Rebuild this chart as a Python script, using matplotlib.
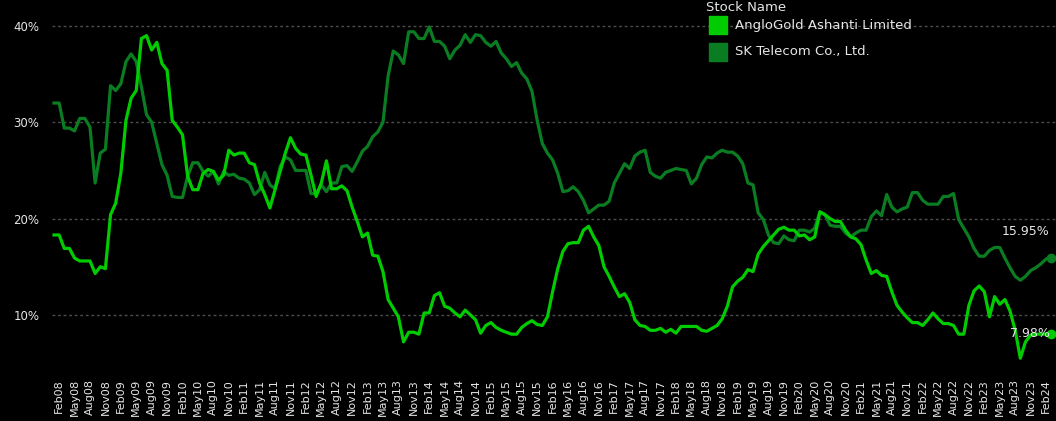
import matplotlib
matplotlib.use("Agg")
import matplotlib.pyplot as plt
from matplotlib.patches import Rectangle
import pandas as pd

# monthly observations, Jan 2008 .. Mar 2024
months = pd.date_range("2008-01-01", periods=195, freq="MS")

anglogold = [
    18.3, 18.3, 16.9, 16.9, 15.9, 15.6, 15.6, 15.6, 14.3, 15.0,
    14.8, 20.4, 21.6, 24.7, 30.2, 32.5, 33.3, 38.7, 39.0, 37.5,
    38.3, 36.1, 35.4, 30.2, 29.5, 28.7, 24.4, 23.0, 23.0, 24.7,
    25.1, 24.9, 24.0, 24.5, 27.1, 26.6, 26.8, 26.8, 25.8, 25.6,
    23.7, 22.5, 21.1, 23.0, 24.9, 26.8, 28.4, 27.3, 26.7, 26.6,
    24.5, 22.3, 23.7, 26.0, 23.1, 23.1, 23.4, 22.9, 21.2, 19.7,
    18.1, 18.5, 16.2, 16.1, 14.5, 11.6, 10.7, 9.8, 7.2, 8.2,
    8.2, 8.0, 10.2, 10.2, 12.0, 12.3, 10.9, 10.7, 10.2, 9.8,
    10.5, 10.0, 9.5, 8.1, 8.9, 9.2, 8.7, 8.4, 8.2, 8.0,
    8.0, 8.7, 9.1, 9.4, 9.0, 8.9, 9.8, 12.4, 14.8, 16.6,
    17.4, 17.5, 17.5, 18.8, 19.2, 18.1, 17.2, 15.0, 14.0, 12.9,
    11.9, 12.2, 11.3, 9.5, 8.9, 8.8, 8.4, 8.4, 8.6, 8.2,
    8.5, 8.1, 8.8, 8.8, 8.8, 8.8, 8.4, 8.3, 8.6, 8.9,
    9.6, 10.9, 12.9, 13.5, 13.9, 14.7, 14.5, 16.3, 17.1, 17.7,
    18.3, 18.9, 19.1, 18.8, 18.8, 18.2, 18.3, 17.8, 18.1, 20.7,
    20.4, 20.0, 19.7, 19.7, 18.8, 18.1, 17.9, 17.3, 15.7, 14.3,
    14.6, 14.1, 14.0, 12.4, 11.0, 10.3, 9.7, 9.2, 9.2, 8.9,
    9.5, 10.2, 9.6, 9.1, 9.1, 8.9, 8.0, 8.0, 11.0, 12.5,
    13.0, 12.4, 9.8, 11.9, 11.1, 11.6, 10.4, 8.4, 5.5, 7.2,
    7.9, 8.0, 8.0, 8.0, 7.98,
]

sk_telecom = [
    32.0, 32.0, 29.4, 29.4, 29.1, 30.4, 30.4, 29.5, 23.7, 26.8,
    27.2, 33.8, 33.3, 34.0, 36.3, 37.1, 36.3, 33.7, 30.8, 30.0,
    27.8, 25.6, 24.5, 22.3, 22.2, 22.2, 24.4, 25.8, 25.8, 24.9,
    24.4, 24.9, 23.6, 24.9, 24.5, 24.6, 24.2, 24.1, 23.7, 22.5,
    23.0, 24.8, 23.5, 23.1, 25.4, 26.4, 26.1, 25.0, 25.0, 25.0,
    22.6, 22.6, 23.5, 22.8, 23.7, 23.7, 25.4, 25.5, 24.9, 25.9,
    27.0, 27.5, 28.5, 29.0, 30.0, 34.8, 37.4, 37.0, 36.1, 39.4,
    39.4, 38.7, 38.7, 39.9, 38.4, 38.4, 37.9, 36.6, 37.5, 38.0,
    39.1, 38.3, 39.1, 39.0, 38.3, 37.9, 38.4, 37.2, 36.6, 35.8,
    36.2, 35.1, 34.5, 33.2, 30.2, 27.8, 26.8, 26.1, 24.7, 22.8,
    22.9, 23.3, 22.8, 21.9, 20.6, 21.0, 21.4, 21.4, 21.8, 23.7,
    24.7, 25.7, 25.2, 26.5, 26.9, 27.1, 24.8, 24.4, 24.2, 24.8,
    25.0, 25.2, 25.1, 25.0, 23.6, 24.2, 25.6, 26.4, 26.3, 26.8,
    27.1, 26.9, 26.9, 26.5, 25.7, 23.7, 23.5, 20.6, 19.9, 18.3,
    17.5, 17.4, 18.2, 17.8, 17.7, 18.8, 18.8, 18.6, 19.0, 20.7,
    20.4, 19.3, 19.2, 19.2, 18.5, 18.1, 18.5, 18.8, 18.8, 20.2,
    20.8, 20.3, 22.5, 21.2, 20.7, 21.0, 21.2, 22.7, 22.7, 21.9,
    21.5, 21.5, 21.5, 22.3, 22.3, 22.6, 19.9, 19.0, 18.1, 16.9,
    16.1, 16.1, 16.7, 17.0, 17.0, 15.9, 14.9, 14.0, 13.6, 14.0,
    14.6, 14.9, 15.3, 15.8, 15.95,
]

series_names = ["AngloGold Ashanti Limited", "SK Telecom Co., Ltd."]
series_colors = ["#00cc00", "#0a7d22"]
y_ticks = [10, 20, 30, 40]

# quarterly labels Feb/May/Aug/Nov
tick_pos = [i for i, d in enumerate(months) if d.month in (2, 5, 8, 11)]
tick_labels = [months[i].strftime("%b%y") for i in tick_pos]

W, H = 1056, 421
fig = plt.figure(figsize=(W / 100, H / 100), dpi=100, facecolor="black")
ax = fig.add_axes([52 / W, 49 / H, 1004 / W, 372 / H], facecolor="black")

x = list(range(len(months)))
ax.plot(x, sk_telecom, color=series_colors[1], lw=2.3, zorder=3)
ax.plot(x, anglogold, color=series_colors[0], lw=2.3, zorder=4)
ax.plot(x[-1], sk_telecom[-1], "o", color=series_colors[1], ms=6, zorder=5)
ax.plot(x[-1], anglogold[-1], "o", color=series_colors[0], ms=6, zorder=5)

ax.annotate(f"{sk_telecom[-1]:.2f}%", (x[-1], sk_telecom[-1]), xytext=(-1, 19),
            textcoords="offset points", ha="right", va="center",
            color="#e6e6e6", fontsize=9, zorder=6)
ax.annotate(f"{anglogold[-1]:.2f}%", (x[-1], anglogold[-1]), xytext=(-1, 0.5),
            textcoords="offset points", ha="right", va="center",
            color="#e6e6e6", fontsize=9, zorder=6)

ax.set_xlim(-0.39, 194.94)
ax.set_ylim(4.07, 42.7)
ax.set_yticks(y_ticks)
ax.set_yticklabels([f"{v}%" for v in y_ticks])
ax.set_xticks(tick_pos)
ax.set_xticklabels(tick_labels, rotation=90)
ax.tick_params(axis="both", length=0, colors="#e6e6e6")
ax.tick_params(axis="y", pad=9, labelsize=8.5)
ax.tick_params(axis="x", pad=5, labelsize=8)
ax.yaxis.grid(True, linestyle=(0, (2, 2)), color="#4d4d4d", lw=1)
for s in ax.spines.values():
    s.set_visible(False)

# legend
fig.text(706 / W, (H - 11) / H, "Stock Name", color="#e6e6e6", fontsize=9.5,
         ha="left", va="baseline")
for i, (name, col) in enumerate(zip(series_names, series_colors)):
    yc = 25 + 27 * i
    fig.patches.append(Rectangle((709 / W, (H - yc - 9) / H), 18 / W, 18 / H,
                                 transform=fig.transFigure, color=col))
    fig.text(735 / W, (H - yc) / H, name, color="#e6e6e6", fontsize=9.5,
             ha="left", va="center")

fig.savefig("out.png", dpi=100, facecolor="black")
